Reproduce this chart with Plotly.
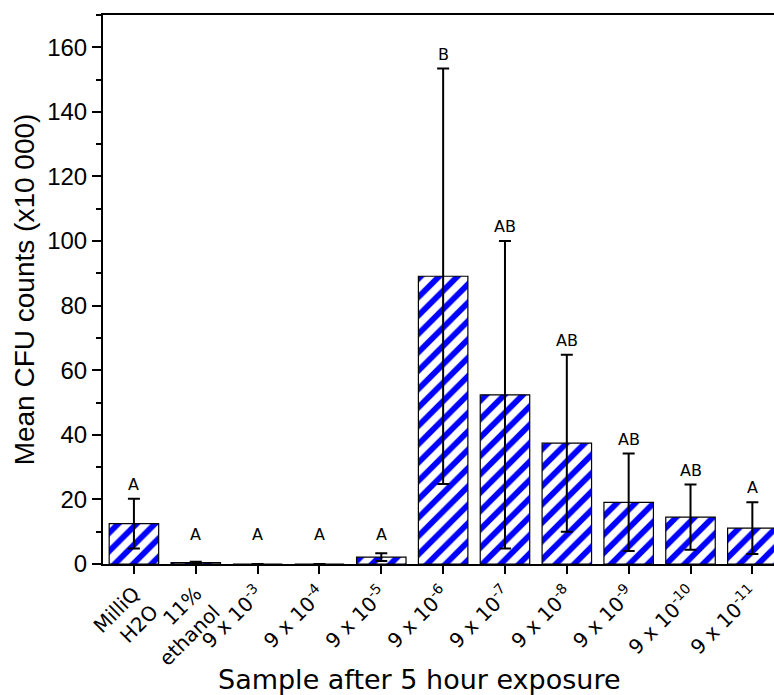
import plotly.graph_objects as go

categories = ["MilliQ<br>H2O", "11%<br>ethanol", "9 x 10<sup>-3</sup>", "9 x 10<sup>-4</sup>",
              "9 x 10<sup>-5</sup>", "9 x 10<sup>-6</sup>", "9 x 10<sup>-7</sup>", "9 x 10<sup>-8</sup>",
              "9 x 10<sup>-9</sup>", "9 x 10<sup>-10</sup>", "9 x 10<sup>-11</sup>"]
means = [12.5, 0.4, 0.0, 0.0, 2.1, 89.1, 52.4, 37.4, 19.1, 14.5, 11.1]
errors = [7.7, 0.3, 0.0, 0.0, 1.2, 64.3, 47.6, 27.4, 15.1, 10.1, 8.0]
letters = ["A", "A", "A", "A", "A", "B", "AB", "AB", "AB", "AB", "A"]
y_ticks = [0, 20, 40, 60, 80, 100, 120, 140, 160]

x = list(range(len(categories)))

fig = go.Figure()
fig.add_trace(go.Bar(
    x=x, y=means, width=0.8,
    marker=dict(color="#0000FF", line=dict(color="black", width=1.2),
                pattern=dict(shape="/", fgcolor="white", bgcolor="#0000FF", size=13, solidity=0.55,
                             fillmode="replace")),
    error_y=dict(type="data", array=errors, visible=True, color="black", thickness=2, width=6),
    showlegend=False,
))

for xi, m, e, lab in zip(x, means, errors, letters):
    fig.add_annotation(x=xi, y=max(m + e, 4.5), text=lab, showarrow=False, yanchor="bottom", yshift=3,
                       font=dict(family="DejaVu Sans", size=16, color="black"))

fig.add_annotation(xref="paper", yref="paper", x=0.472, y=-0.211, yanchor="middle",
                   text="Sample after 5 hour exposure",
                   showarrow=False, font=dict(family="DejaVu Sans", size=27, color="black"))

fig.update_layout(
    width=774, height=695,
    margin=dict(l=103, r=0, t=15, b=131),
    plot_bgcolor="white", paper_bgcolor="white",
)
fig.update_xaxes(
    range=[-0.5, 10.35], tickmode="array", tickvals=x, ticktext=categories, tickangle=-45,
    showline=True, linecolor="black", linewidth=2, mirror=True,
    ticks="outside", ticklen=8, tickwidth=2, tickcolor="black",
    tickfont=dict(family="DejaVu Sans", size=20, color="black"),
    showgrid=False, zeroline=False,
)
fig.update_yaxes(
    range=[0, 170], tickmode="array", tickvals=y_ticks,
    showline=True, linecolor="black", linewidth=2, mirror=False,
    ticks="outside", ticklen=9, tickwidth=2, tickcolor="black",
    minor=dict(ticks="outside", ticklen=5, tickwidth=2, tickcolor="black", dtick=10, showgrid=False),
    tickfont=dict(family="Liberation Sans", size=24, color="black"),
    title=dict(text="Mean CFU counts (x10 000)", font=dict(family="Liberation Sans", size=28, color="black"), standoff=4),
    showgrid=False, zeroline=False,
)

fig.write_html("out.html")
